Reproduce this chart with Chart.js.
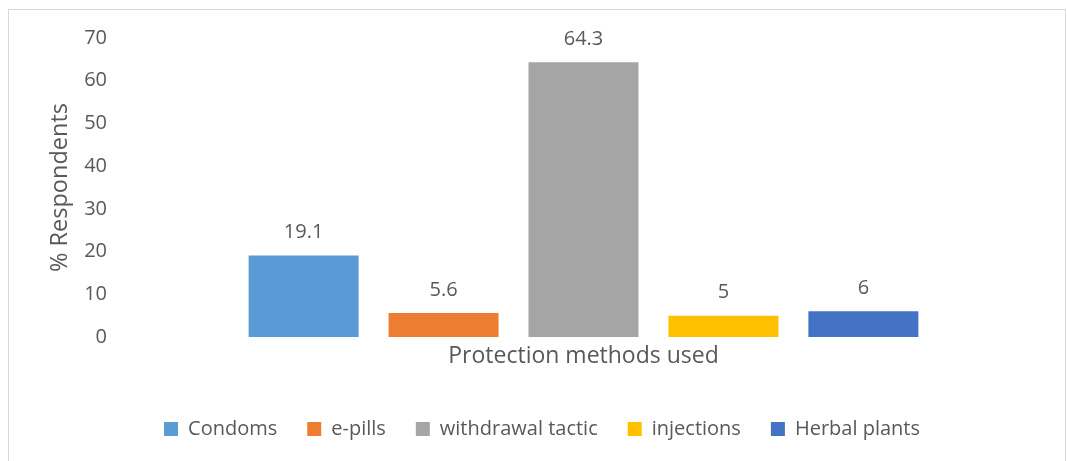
<!DOCTYPE html>
<html>
<head>
<meta charset="utf-8">
<script src="https://cdn.jsdelivr.net/npm/chart.js@4"></script>
<style>
  html, body { margin: 0; padding: 0; background: #ffffff; }
  #wrap { position: relative; width: 1067px; height: 461px; }
</style>
</head>
<body>
<div id="wrap"><canvas id="c" width="1067" height="461"></canvas></div>
<script>
const categories = ["Protection methods used"];
const seriesNames = ["Condoms", "e-pills", "withdrawal tactic", "injections", "Herbal plants"];
const seriesValues = [19.1, 5.6, 64.3, 5, 6];
const seriesColors = ["#5B9BD5", "#ED7D31", "#A5A5A5", "#FFC000", "#4472C4"];
const yTickMax = 70;
const yTickStep = 10;
const yAxisTitle = "% Respondents";

const TEXT = "#595959";
const FONT = "'Open Sans', sans-serif";

const frame = {
  id: "frame",
  beforeDraw(chart) {
    const ctx = chart.ctx;
    ctx.save();
    ctx.fillStyle = "#ffffff";
    ctx.fillRect(0, 0, chart.width, chart.height);
    ctx.strokeStyle = "#d9d9d9";
    ctx.lineWidth = 1;
    ctx.strokeRect(8.5, 9.5, 1057, 470);
    ctx.restore();
  }
};

const valueLabels = {
  id: "valueLabels",
  afterDatasetsDraw(chart) {
    const ctx = chart.ctx;
    ctx.save();
    ctx.font = "20px " + FONT;
    ctx.fillStyle = TEXT;
    ctx.textAlign = "center";
    ctx.textBaseline = "middle";
    chart.data.datasets.forEach((ds, i) => {
      const meta = chart.getDatasetMeta(i);
      meta.data.forEach((bar, j) => {
        ctx.fillText(String(ds.data[j]), bar.x, bar.y - 23);
      });
    });
    ctx.restore();
  }
};

const datasets = seriesNames.map((name, i) => ({
  label: name,
  data: [seriesValues[i]],
  backgroundColor: seriesColors[i],
  borderWidth: 0,
  categoryPercentage: 0.742,
  barPercentage: 0.786
}));

new Chart(document.getElementById("c"), {
  type: "bar",
  data: { labels: categories, datasets },
  plugins: [frame, valueLabels],
  options: {
    responsive: false,
    animation: false,
    devicePixelRatio: 1,
    layout: { padding: { top: 38, right: 12, bottom: 12, left: 29 } },
    plugins: {
      tooltip: { enabled: false },
      legend: {
        position: "bottom",
        labels: {
          color: TEXT,
          font: { family: FONT, size: 20 },
          boxWidth: 14,
          boxHeight: 14,
          padding: 30
        }
      }
    },
    scales: {
      x: {
        grid: { display: false, drawTicks: false },
        border: { display: false },
        ticks: { color: TEXT, font: { family: FONT, size: 23 }, padding: 6 },
        afterFit(scale) { scale.height = 52; }
      },
      y: {
        min: 0,
        max: yTickMax,
        grid: { display: false, drawTicks: false },
        border: { display: false },
        ticks: { stepSize: yTickStep, color: TEXT, font: { family: FONT, size: 20 }, padding: 5 },
        title: {
          display: true,
          text: yAxisTitle,
          color: TEXT,
          font: { family: FONT, size: 23.5 },
          padding: { top: 17, bottom: 0 }
        },
        afterFit(scale) { scale.width = 83; }
      }
    }
  }
});
</script>
</body>
</html>
